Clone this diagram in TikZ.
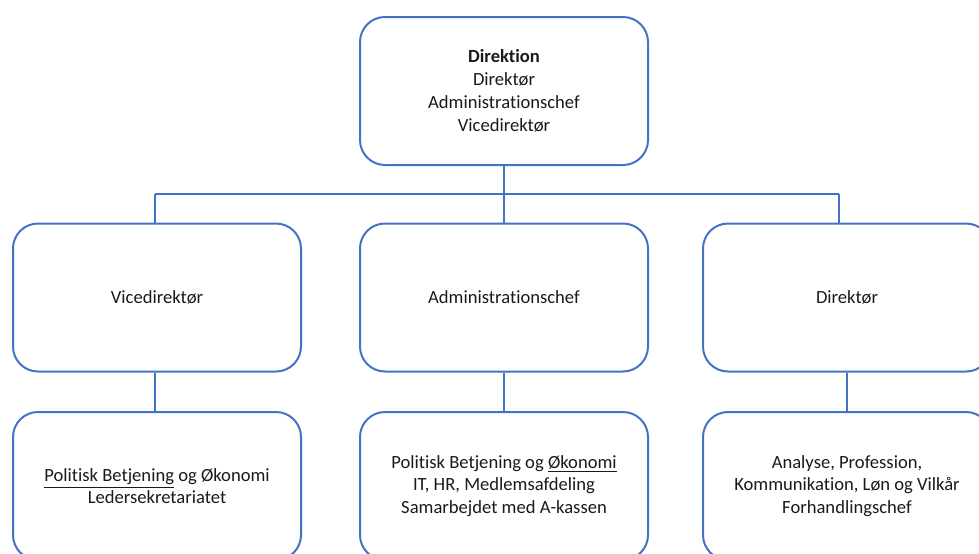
\documentclass[tikz,border=0pt]{standalone}
\usepackage{fontspec}
\setmainfont{Carlito}[Ligatures={NoCommon}]
\definecolor{boxblue}{HTML}{4472C4}
\definecolor{txt}{HTML}{1A1A1A}
\begin{document}
\begin{tikzpicture}[x=0.5pt,y=-0.5pt,
  orgbox/.style={draw=boxblue, line width=1pt, rounded corners=12.5pt,
    minimum width=144pt, minimum height=74pt, inner sep=0pt, align=center,
    text=txt, font=\fontsize{9.3}{11.4}\selectfont},
  conn/.style={draw=boxblue, line width=1pt}]
\useasboundingbox (0,0) rectangle (979,553);
\clip (0,0) rectangle (979,553);
% top
\node[orgbox] (top) at (504,91) {\textbf{Direktion}\\Direktør\\Administrationschef\\Vicedirektør};
% middle row
\node[orgbox] (vd) at (157,297.5) {Vicedirektør};
\node[orgbox] (ac) at (504,297.5) {Administrationschef};
\node[orgbox] (dir) at (847,297.5) {Direktør};
% bottom row
\node[orgbox] (vdb) at (157,486) {\underline{Politisk Betjening} og Økonomi\\Ledersekretariatet};
\node[orgbox] (acb) at (504,486) {Politisk Betjening og \underline{Økonomi}\\IT, HR, Medlemsafdeling\\Samarbejdet med A-kassen};
\node[orgbox] (dirb) at (847,486) {Analyse, Profession,\\Kommunikation, Løn og Vilkår\\Forhandlingschef};
% connectors
\coordinate (busL) at (155,194);
\coordinate (busR) at (839,194);
\draw[conn] (top.south) -- (top.south |- ac.north);
\draw[conn] (busL) -- (busR);
\draw[conn] (busL) -- (busL |- vd.north);
\draw[conn] (busR) -- (busR |- dir.north);
\draw[conn] (busL |- vd.south) -- (busL |- vdb.north);
\draw[conn] (ac.south) -- (acb.north);
\draw[conn] (dir.south) -- (dirb.north);
\end{tikzpicture}
\end{document}
